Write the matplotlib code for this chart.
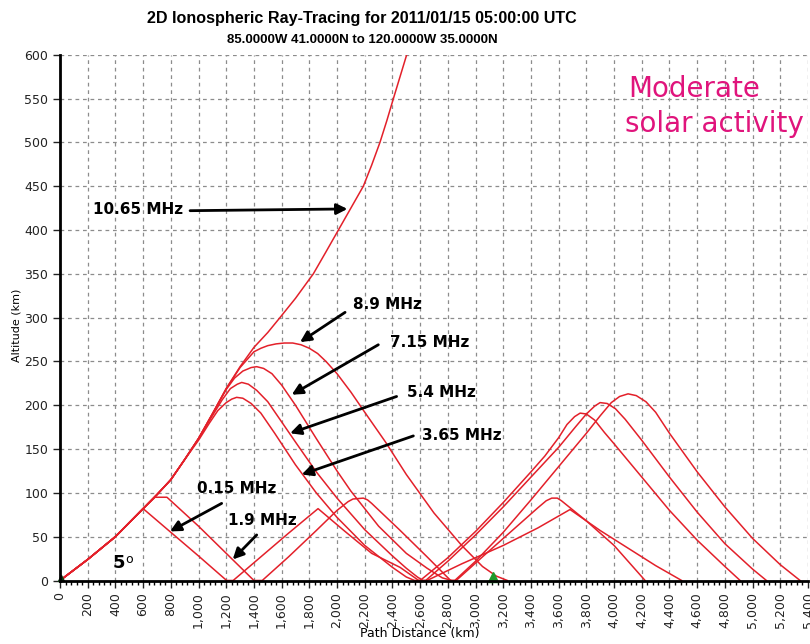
import matplotlib
matplotlib.use("Agg")
from matplotlib import pyplot as plt
from matplotlib.ticker import FuncFormatter, MultipleLocator

# ray paths: path distance (km) and altitude (km)
dist_10_65 = [0, 200, 400, 600, 700, 800, 900, 1000, 1100, 1200, 1300, 1400, 1500, 1588, 1700,
              1829, 1920, 2010, 2100, 2190, 2250, 2310, 2360, 2407, 2455, 2503]
alt_10_65 = [0, 24, 50, 82, 98, 115, 138, 162, 190, 219, 244, 266, 283, 300, 322,
             350, 375, 400, 425, 450, 474, 500, 525, 550, 575, 600]

dist_8_9 = [0, 200, 400, 600, 700, 800, 900, 1000, 1100, 1200, 1300, 1400, 1450, 1500, 1560,
            1620, 1680, 1740, 1800, 1860, 1920, 2000, 2100, 2200, 2350, 2500, 2700, 2900, 3050,
            3150, 3230]
alt_8_9 = [0, 24, 50, 82, 98, 115, 138, 162, 190, 219, 243, 261, 265, 268, 270,
           271, 271, 269, 265, 259, 250, 236, 215, 192, 158, 121, 77, 40, 16,
           5, 0]

dist_7_15 = [0, 200, 400, 600, 700, 800, 900, 1000, 1100, 1200, 1260, 1320, 1380, 1420, 1470,
             1530, 1600, 1700, 1850, 2000, 2100, 2300, 2500, 2650, 2760, 2830, 2850, 3000, 3200,
             3400, 3600, 3800, 3900, 3980, 4040, 4101, 4160, 4230, 4300, 4400, 4600, 4800, 5000,
             5200, 5343]
alt_7_15 = [0, 24, 50, 82, 98, 115, 138, 162, 190, 218, 231, 239, 243, 244, 242,
            236, 223, 200, 162, 125, 102, 62, 31, 14, 3, 0, 0, 22, 55,
            92, 130, 168, 188, 203, 210, 213, 211, 204, 192, 168, 124, 84, 48,
            18, 0]

dist_5_4 = [0, 200, 400, 600, 700, 800, 900, 1000, 1100, 1170, 1230, 1280, 1312, 1360, 1420,
            1500, 1600, 1700, 1850, 2000, 2200, 2400, 2500, 2580, 2620, 2640, 2800, 3000, 3200,
            3400, 3600, 3720, 3800, 3860, 3899, 3950, 4010, 4080, 4200, 4400, 4600, 4800, 5000,
            5100]
alt_5_4 = [0, 24, 50, 82, 98, 115, 138, 162, 188, 206, 219, 224, 226, 224, 217,
           204, 181, 158, 124, 94, 58, 28, 14, 4, 0, 0, 22, 52, 84,
           118, 152, 175, 190, 199, 203, 202, 196, 184, 160, 118, 78, 42, 13,
           0]

dist_3_65 = [0, 200, 400, 600, 700, 800, 900, 1000, 1080, 1140, 1200, 1240, 1275, 1320, 1380,
             1450, 1550, 1700, 1850, 2000, 2200, 2400, 2500, 2560, 2600, 2800, 3000, 3200, 3400,
             3500, 3600, 3660, 3715, 3755, 3800, 3860, 3930, 4000, 4200, 4400, 4600, 4800, 4910]
alt_3_65 = [0, 24, 50, 82, 98, 115, 138, 160, 180, 194, 203, 207, 209, 208, 202,
            191, 168, 132, 100, 72, 40, 15, 4, 0, 0, 26, 56, 89, 124,
            142, 163, 178, 187, 191, 190, 183, 169, 156, 118, 80, 46, 16, 0]

dist_1_9 = [0, 200, 400, 600, 686, 772, 800, 1000, 1200, 1400, 1460, 1650, 1850, 2000, 2080,
            2115, 2190, 2220, 2250, 2450, 2650, 2820, 2860, 3050, 3250, 3450, 3510, 3550, 3590,
            3620, 3800, 4000, 4224]
alt_1_9 = [0, 24, 50, 82, 95, 95, 91, 62, 31, 0, 0, 27, 57, 80, 90,
           93, 94, 92, 88, 58, 27, 0, 0, 27, 55, 83, 91, 94, 94,
           91, 68, 40, 0]

dist_0_15 = [0, 200, 400, 600, 800, 1000, 1203, 1250, 1450, 1650, 1863, 2050, 2250, 2455, 2590,
             2650, 2900, 3200, 3450, 3682, 3900, 4100, 4300, 4488]
alt_0_15 = [0, 24, 50, 82, 55, 28, 0, 0, 27, 54, 82, 57, 31, 15, 0,
            0, 19, 40, 60, 81, 57, 37, 17, 0]

rays_dist = [dist_10_65, dist_8_9, dist_7_15, dist_5_4, dist_3_65, dist_1_9, dist_0_15]
rays_alt = [alt_10_65, alt_8_9, alt_7_15, alt_5_4, alt_3_65, alt_1_9, alt_0_15]

# labels: text, text position, arrow tail, arrow tip
labels = ["10.65 MHz", "8.9 MHz", "7.15 MHz", "5.4 MHz", "3.65 MHz", "0.15 MHz", "1.9 MHz"]
label_pos = [(238, 423), (2116, 315), (2383, 272), (2503, 214), (2611, 165), (987, 105), (1215, 69)]
arrow_tail = [(939, 422), (2058, 306), (2298, 269), (2430, 210), (2551, 165), (1167, 88), (1420, 52)]
arrow_tip = [(2075, 424), (1733, 272), (1673, 212), (1661, 168), (1745, 121), (794, 56), (1247, 24)]

receiver_km = 3126

fig = plt.figure(figsize=(8.10, 6.44), dpi=100)
ax = fig.add_axes([60 / 810, 63.5 / 644, 748 / 810, 525.8 / 644])

for xs, ys in zip(rays_dist, rays_alt):
    ax.plot(xs, ys, color="#e3202a", lw=1.1, solid_joinstyle="round")

ax.plot([receiver_km], [4], marker="^", color="#1e9a2a", markersize=7, clip_on=False)
ax.plot([4], [3], marker="^", color="#0b3d10", markersize=5, clip_on=False)

for txt, pos, tail, tip in zip(labels, label_pos, arrow_tail, arrow_tip):
    ax.text(pos[0], pos[1], txt, fontsize=11, fontweight="bold", va="center", ha="left")
    ax.annotate("", xy=tip, xytext=tail,
                arrowprops=dict(arrowstyle="-|>", color="black", lw=2, mutation_scale=16,
                                shrinkA=0, shrinkB=0))

# take-off angle
ax.text(383, 20, "5", fontsize=13, fontweight="bold", va="center", ha="left")
ax.text(470, 24, "o", fontsize=9, va="center", ha="left")

ax.text(4101, 552, "Moderate", fontsize=20, color="#e0147c", va="baseline", ha="left")
ax.text(4079, 512, "solar activity", fontsize=20, color="#e0147c", va="baseline", ha="left")

ax.set_xlim(0, 5400)
ax.set_ylim(0, 600)
ax.set_xticks(range(0, 5401, 200))
ax.set_yticks(range(0, 601, 50))
ax.xaxis.set_minor_locator(MultipleLocator(40))
ax.xaxis.set_major_formatter(FuncFormatter(lambda v, p: f"{int(v):,}"))
ax.tick_params(axis="x", labelrotation=90, labelsize=9, length=5, width=1, colors="#222222")
ax.tick_params(axis="x", which="minor", length=3, width=1)
ax.tick_params(axis="y", labelsize=9, length=5, width=1, colors="#222222")
ax.grid(True, which="major", ls=(0, (3, 3)), color="#8c8c8c", lw=0.9)
ax.set_axisbelow(True)
for side in ["top", "right"]:
    ax.spines[side].set_visible(False)
for side in ["left", "bottom"]:
    ax.spines[side].set_linewidth(2)

ax.set_xlabel("Path Distance (km)", fontsize=9)
ax.xaxis.set_label_coords((420 - 60) / 748, -(634 - 580.5) / 525.8)
ax.xaxis.label.set_va("center")
ax.set_ylabel("Altitude (km)", fontsize=8)
ax.yaxis.set_label_coords(-(60 - 17) / 748, (580.5 - 325) / 525.8)
ax.yaxis.label.set_va("center")

fig.text(362 / 810, 1 - 18 / 644, "2D Ionospheric Ray-Tracing for 2011/01/15 05:00:00 UTC",
         ha="center", va="center", fontsize=11.6, fontweight="bold",
         family=["Liberation Sans", "DejaVu Sans"])
fig.text(362 / 810, 1 - 40 / 644, "85.0000W 41.0000N to 120.0000W 35.0000N",
         ha="center", va="center", fontsize=9.5, fontweight="bold",
         family=["Liberation Sans", "DejaVu Sans"])

fig.savefig("out.png", dpi=100)
